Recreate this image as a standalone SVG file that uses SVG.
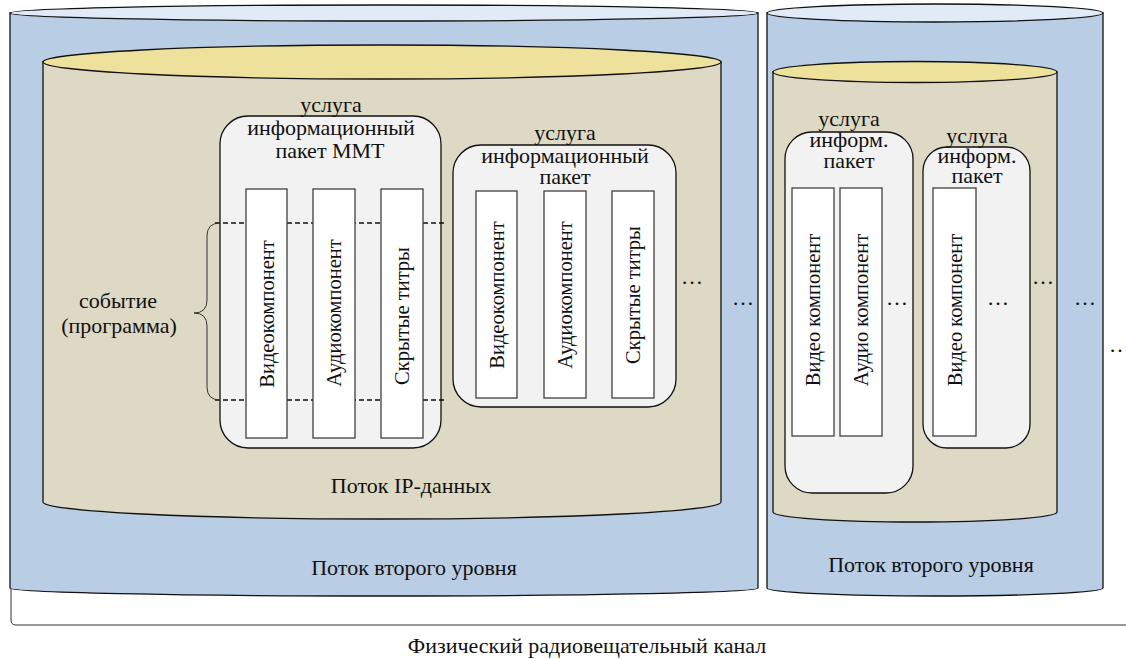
<svg xmlns="http://www.w3.org/2000/svg" width="1126" height="659" viewBox="0 0 1126 659" font-family="'Liberation Serif', 'DejaVu Serif', serif">
<style>
text{font-family:'Liberation Serif','DejaVu Serif',serif;font-size:22px;fill:#111;text-anchor:middle}
.rot{font-size:20.5px}
.blue{fill:#B9CDE5;stroke:#111;stroke-width:1.3}
.bluetop{fill:#E1EBF7;stroke:#111;stroke-width:1.3}
.beige{fill:#DDD9C4;stroke:#111;stroke-width:1.3}
.beigetop{fill:#EDE19B;stroke:#111;stroke-width:1.3}
.svc{fill:#F2F2F2;stroke:#111;stroke-width:1.3}
.comp{fill:#FFFFFF;stroke:#404040;stroke-width:1.3}
.dash{stroke:#111;stroke-width:1.5;stroke-dasharray:5 3;fill:none}
.thin{stroke:#333;stroke-width:1;fill:none}
</style>
<rect width="1126" height="659" fill="#FFFFFF"/>

<g id="channel">
<path class="thin" d="M11,588 L11,620 Q11,625 16,625 L1126,625"/>
<text x="587" y="653">Физический радиовещательный канал</text>
</g>

<g id="l2-stream-1">
<path class="blue" d="M10,13 L10,588 A374,8 0 0 0 758,588 L758,13 Z"/>
<ellipse class="bluetop" cx="384" cy="13" rx="374" ry="8"/>
<text x="414" y="575">Поток второго уровня</text>
<text x="743" y="305">…</text>
</g>

<g id="ip-stream">
<path class="beige" d="M43,62 L43,502 A339,17 0 0 0 721,502 L721,62 Z"/>
<ellipse class="beigetop" cx="382" cy="62" rx="339" ry="17"/>
<text x="411" y="493">Поток IP-данных</text>
<text x="692" y="284">…</text>
</g>

<g id="service-mmt">
<rect class="svc" x="220" y="116" width="221" height="332" rx="28"/>
<text x="331" y="112">услуга</text>
<text x="331" y="135">информационный</text>
<text x="330" y="158">пакет MMT</text>
</g>

<g id="event">
<path class="dash" d="M215,223 L446,223 M215,400 L446,400"/>
<path class="thin" d="M220,223 Q207,223 207,236 L207,300 Q207,313 194,313 Q207,313 207,326 L207,387 Q207,400 220,400"/>
<text x="118" y="308">событие</text>
<text x="119" y="333">(программа)</text>
</g>

<g id="mmt-components">
<rect class="comp" x="246" y="189" width="41" height="249"/>
<rect class="comp" x="313" y="189" width="42" height="249"/>
<rect class="comp" x="381" y="189" width="42" height="249"/>
<text class="rot" transform="translate(267,314) rotate(-90)" dy="7">Видеокомпонент</text>
<text class="rot" transform="translate(334,313) rotate(-90)" dy="7">Аудиокомпонент</text>
<text class="rot" transform="translate(402,316) rotate(-90)" dy="7">Скрытые титры</text>
</g>

<g id="service-2">
<rect class="svc" x="453" y="145" width="223" height="262" rx="28"/>
<text x="565" y="140">услуга</text>
<text x="565" y="163">информационный</text>
<text x="565" y="184">пакет</text>
<rect class="comp" x="476" y="191" width="41" height="207"/>
<rect class="comp" x="544" y="191" width="42" height="207"/>
<rect class="comp" x="612" y="191" width="42" height="207"/>
<text class="rot" transform="translate(497,295) rotate(-90)" dy="7">Видеокомпонент</text>
<text class="rot" transform="translate(565,295) rotate(-90)" dy="7">Аудиокомпонент</text>
<text class="rot" transform="translate(633,295) rotate(-90)" dy="7">Скрытые титры</text>
</g>

<g id="l2-stream-2">
<path class="blue" d="M767,13 L767,588 A168,8 0 0 0 1103,588 L1103,13 Z"/>
<ellipse class="bluetop" cx="935" cy="13" rx="168" ry="9"/>
<text x="931" y="572">Поток второго уровня</text>
<text x="1085" y="305">…</text>
</g>

<g id="ip-stream-2">
<path class="beige" d="M773,72 L773,512 A142,10 0 0 0 1057,512 L1057,72 Z"/>
<ellipse class="beigetop" cx="915" cy="72" rx="142" ry="10.5"/>
<text x="1043" y="284">…</text>
</g>

<g id="service-a">
<rect class="svc" x="785" y="132" width="128" height="361" rx="27"/>
<text x="849" y="126">услуга</text>
<text x="849" y="147">информ.</text>
<text x="849" y="168">пакет</text>
<rect class="comp" x="792" y="188" width="42" height="248"/>
<rect class="comp" x="840" y="188" width="42" height="248"/>
<text class="rot" transform="translate(813,310) rotate(-90)" dy="7">Видео компонент</text>
<text class="rot" transform="translate(861,310) rotate(-90)" dy="7">Аудио компонент</text>
<text x="897" y="305">…</text>
</g>

<g id="service-b">
<rect class="svc" x="923" y="147" width="107" height="301" rx="24"/>
<text x="977" y="143">услуга</text>
<text x="977" y="163">информ.</text>
<text x="977" y="183">пакет</text>
<rect class="comp" x="933" y="188" width="43" height="248"/>
<text class="rot" transform="translate(955,310) rotate(-90)" dy="7">Видео компонент</text>
<text x="998" y="305">…</text>
</g>

<g id="more">
<text x="1109" y="352" style="text-anchor:start">…</text>
</g>

<g id="connectors"></g>
</svg>
